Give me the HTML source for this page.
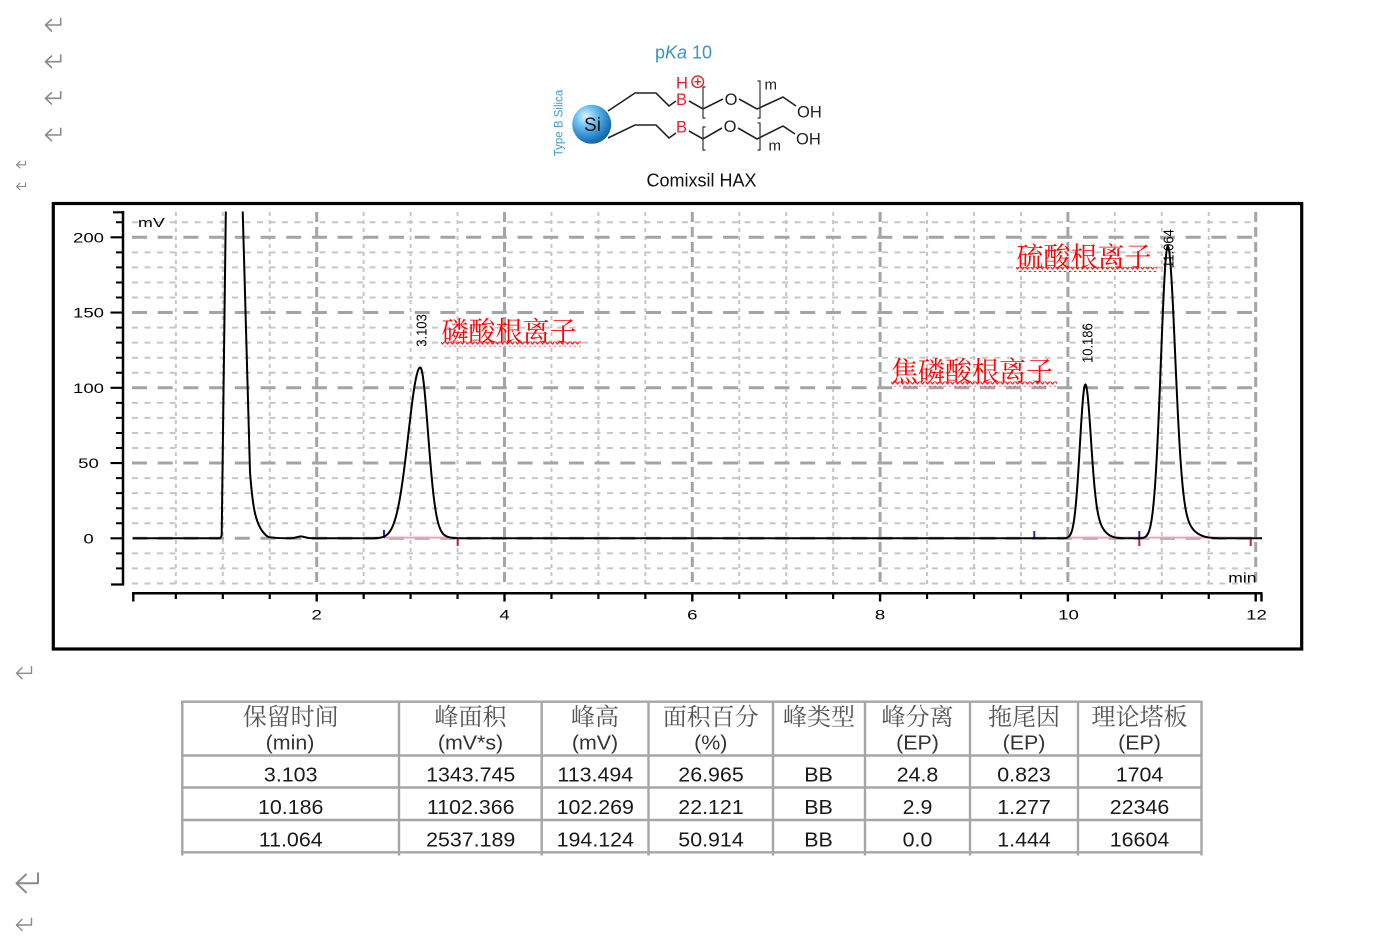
<!DOCTYPE html>
<html><head><meta charset="utf-8"><style>
html,body{margin:0;padding:0;background:#fff;}
body{width:1387px;height:937px;overflow:hidden;}
svg{display:block;}
</style></head><body>
<svg width="1387" height="937" viewBox="0 0 1387 937" xmlns="http://www.w3.org/2000/svg" font-family="'Liberation Sans', Arial, sans-serif">
<defs>
<radialGradient id="sph" cx="0.35" cy="0.3" r="0.75">
<stop offset="0" stop-color="#e2f4ff"/><stop offset="0.35" stop-color="#6cc0f0"/><stop offset="0.8" stop-color="#1f7cc4"/><stop offset="1" stop-color="#145f9c"/>
</radialGradient>
<pattern id="wave" x="0" y="0" width="5" height="5" patternUnits="userSpaceOnUse">
<path d="M0 1 L2.5 4 L5 1" stroke="#ff1010" stroke-width="1.1" fill="none"/>
</pattern>
<clipPath id="plotclip"><rect x="120" y="211.5" width="1180" height="400"/></clipPath>
</defs>

<!-- return marks -->
<g stroke="#8a8a8a" stroke-width="1.6" fill="none" stroke-linecap="round" stroke-linejoin="round">
<path d="M60.7 18.5V25H45.5M51.5 19.5L45.5 25L51.5 31"/>
<path d="M60.7 55V61.7H45.5M51.5 56L45.5 61.7L51.5 67.5"/>
<path d="M60.7 91.7V98.3H45.5M51.5 92.7L45.5 98.3L51.5 104"/>
<path d="M60.7 128.3V135H45.5M51.5 129.3L45.5 135L51.5 140.7"/>
<path d="M25.5 161V164.8H16.5M20 161.5L16.5 164.8L20 168" stroke-width="1.1"/>
<path d="M25.5 182.7V186.5H16.5M20 183.2L16.5 186.5L20 189.7" stroke-width="1.1"/>
<path d="M31.5 666.7V673.3H16.5M22 667.8L16.5 673.3L22 678.8" stroke-width="1.4"/>
<path d="M38 873.3V883.3H16.5M26 874.5L16.5 883.3L26 892.3" stroke-width="2"/>
<path d="M31.5 918.3V925H16.5M22 919.3L16.5 925L22 930.5" stroke-width="1.4"/>
</g>

<!-- molecule -->
<g>
<text x="655" y="58.5" font-size="18" fill="#3a92c5">p<tspan font-style="italic">Ka</tspan> 10</text>
<text transform="translate(562.5 123) rotate(-90)" text-anchor="middle" font-size="11.5" fill="#3b9ad0">Type B Silica</text>
<circle cx="591.7" cy="124.3" r="19.5" fill="url(#sph)"/>
<text x="592.5" y="131" text-anchor="middle" font-size="19" fill="#111">Si</text>
<path d="M608 111 L635 93 L656 93 L669 106 L676 101 M689 101 L703 109 L723 99 M739 99 L757 109 L783 97 L796 106 M608 138 L635 125 L656 125 L669 138 L676 133 M689 131 L703 139 L722 128 M738 128 L757 139 L783 126 L795 134" stroke="#222" stroke-width="1.6" fill="none"/>
<path d="M705.5 87 H703 V118 H705.5 M757.5 81 H760 V118 H757.5 M705.5 127 H703 V150 H705.5 M757.5 123 H760 V150 H757.5" stroke="#333" stroke-width="1.2" fill="none"/>
<text x="676" y="88.3" font-size="16.5" fill="#e0242c">H</text>
<text x="676" y="105" font-size="16.5" fill="#e0242c">B</text>
<text x="676" y="132.7" font-size="16.5" fill="#e0242c">B</text>
<circle cx="697.7" cy="81.7" r="5.8" stroke="#e0242c" stroke-width="1.4" fill="none"/>
<path d="M694.4 81.7H701M697.7 78.4V85" stroke="#e0242c" stroke-width="1.4"/>
<text x="731" y="105" text-anchor="middle" font-size="16.5" fill="#222">O</text>
<text x="730" y="132" text-anchor="middle" font-size="16.5" fill="#222">O</text>
<text x="797" y="117.5" font-size="16.5" fill="#222">OH</text>
<text x="796" y="144.5" font-size="16.5" fill="#222">OH</text>
<text x="764.5" y="89.5" font-size="15" fill="#222">m</text>
<text x="768.5" y="150.5" font-size="15" fill="#222">m</text>
<text x="646.5" y="186.5" font-size="18" fill="#111">Comixsil HAX</text>
</g>

<!-- chart frame -->
<rect x="53.3" y="203.5" width="1248.4" height="445.5" fill="#fff" stroke="#000" stroke-width="3.2"/>

<!-- grid -->
<path stroke="#c6c6c6" stroke-width="2" stroke-dasharray="6 6.5" fill="none" d="M132 583.45H1257M132 568.4H1257M132 553.35H1257M132 523.25H1257M132 508.2H1257M132 493.15H1257M132 478.1H1257M132 448H1257M132 432.95H1257M132 417.9H1257M132 402.85H1257M132 372.75H1257M132 357.7H1257M132 342.65H1257M132 327.6H1257M132 297.5H1257M132 282.45H1257M132 267.4H1257M132 252.35H1257M132 222.25H1257"/>
<path stroke="#c6c6c6" stroke-width="2" stroke-dasharray="4 4" fill="none" d="M175.85 212V585M222.8 212V585M269.75 212V585M363.65 212V585M410.6 212V585M457.55 212V585M551.45 212V585M598.4 212V585M645.35 212V585M739.25 212V585M786.2 212V585M833.15 212V585M927.05 212V585M974 212V585M1020.95 212V585M1114.85 212V585M1161.8 212V585M1208.75 212V585"/>
<path stroke="#a4a4a4" stroke-width="3" stroke-dasharray="15 10.7" fill="none" d="M132 538.3H1257M132 463.05H1257M132 387.8H1257M132 312.55H1257M132 237.3H1257"/>
<path stroke="#a4a4a4" stroke-width="3" stroke-dasharray="10 5" fill="none" d="M316.7 212V585M504.5 212V585M692.3 212V585M880.1 212V585M1067.9 212V585M1255.7 212V585"/>

<!-- axes -->
<g stroke="#000" fill="none">
<path stroke-width="2.5" d="M123 211V585.5M132 593.3H1262.5"/>
<path stroke-width="2.2" d="M110.5 538.3H123M110.5 463.05H123M110.5 387.8H123M110.5 312.55H123M110.5 237.3H123M111 584.5H123M113 212.3H123"/>
<path stroke-width="2" d="M116 568.4H123M116 553.35H123M116 523.25H123M116 508.2H123M116 493.15H123M116 478.1H123M116 448H123M116 432.95H123M116 417.9H123M116 402.85H123M116 372.75H123M116 357.7H123M116 342.65H123M116 327.6H123M116 297.5H123M116 282.45H123M116 267.4H123M116 252.35H123M116 222.25H123"/>
<path stroke-width="2.2" d="M175.85 593.3V599M222.8 593.3V599M269.75 593.3V599M363.65 593.3V599M410.6 593.3V599M457.55 593.3V599M551.45 593.3V599M598.4 593.3V599M645.35 593.3V599M739.25 593.3V599M786.2 593.3V599M833.15 593.3V599M927.05 593.3V599M974 593.3V599M1020.95 593.3V599M1114.85 593.3V599M1161.8 593.3V599M1208.75 593.3V599"/>
<path stroke-width="2.4" d="M133.3 593.3V601.5M316.7 593.3V601.5M504.5 593.3V601.5M692.3 593.3V601.5M880.1 593.3V601.5M1067.9 593.3V601.5M1255.7 593.3V601.5M1261.5 593.3V601.5"/>
</g>

<!-- axis labels -->
<g font-size="14" fill="#000" text-anchor="middle">
<text transform="translate(88.5 242.5) scale(1.33 1)">200</text>
<text transform="translate(88.5 317.7) scale(1.33 1)">150</text>
<text transform="translate(88.5 392.9) scale(1.33 1)">100</text>
<text transform="translate(88.5 468.1) scale(1.33 1)">50</text>
<text transform="translate(88.5 543.4) scale(1.33 1)">0</text>
<text transform="translate(316.7 619.4) scale(1.33 1)">2</text>
<text transform="translate(504.5 619.4) scale(1.33 1)">4</text>
<text transform="translate(692.3 619.4) scale(1.33 1)">6</text>
<text transform="translate(880.1 619.4) scale(1.33 1)">8</text>
<text transform="translate(1068.5 619.4) scale(1.33 1)">10</text>
<text transform="translate(1256.5 619.4) scale(1.33 1)">12</text>
</g>
<text transform="translate(138 227) scale(1.37 1)" font-size="13" fill="#000">mV</text>
<text transform="translate(1228.3 582.5) scale(1.25 1)" font-size="14" fill="#000">min</text>

<!-- integration baselines & markers -->
<path stroke="#e8a6b6" stroke-width="2" fill="none" d="M384 537.6H458M1068 537.6H1251"/>
<path stroke="#2a2aa0" stroke-width="2" fill="none" d="M384 530V538M1034.3 531V538M1139.3 531V538"/>
<path stroke="#c0203c" stroke-width="2" fill="none" d="M457.7 538.5V546M1139.3 538.5V546M1250.7 538.5V546"/>

<!-- trace -->
<g clip-path="url(#plotclip)">
<path id="trace" stroke="#000" stroke-width="2" fill="none" stroke-linejoin="round" d="M133 538.3 L219 538.3 C220.5 538.3 221.3 537.5 221.7 535 L226.6 150 L241 150 L242.7 211 L250 472 C252.5 505 255 528 268 536.8 C274 538.2 280 538.3 290 538.3 L1262 538.3"/>
</g>

<!-- peak labels -->
<g font-size="13" fill="#000">
<text transform="translate(426.5 346.7) rotate(-90) scale(1 1.15)">3.103</text>
<text transform="translate(1092.5 363) rotate(-90) scale(1 1.15)">10.186</text>
<text transform="translate(1173.5 268) rotate(-90) scale(1 1.15)">11.064</text>
</g>

<!-- red annotations -->
<g font-family="'Liberation Serif', 'Noto Serif CJK SC', 'Noto Sans CJK SC', serif" font-size="27" fill="#ff0000">
<text x="441.5" y="341">磷酸根离子</text>
<text x="891" y="381">焦磷酸根离子</text>
<text x="1016.5" y="266.5">硫酸根离子</text>
</g>
<rect x="441" y="341.5" width="140" height="5" fill="url(#wave)"/>
<rect x="891" y="381.5" width="166" height="5" fill="url(#wave)"/>
<rect x="1016" y="267" width="141" height="5" fill="url(#wave)"/>

<!-- table -->
<g stroke="#a6a6a6" stroke-width="2.4" fill="none">
<path d="M181 701.7H1202.5M181 755.5H1202.5M181 787.5H1202.5M181 820H1202.5M181 852.3H1202.5"/>
<path d="M182.3 700.5V855.5M399 700.5V855.5M541.7 700.5V855.5M648.5 700.5V855.5M773 700.5V855.5M865 700.5V855.5M970 700.5V855.5M1078 700.5V855.5M1201.5 700.5V855.5"/>
</g>
<g font-family="'Liberation Serif', 'Noto Serif CJK SC', serif" font-size="24" fill="#555" text-anchor="middle">
<text x="290.7" y="725">保留时间</text>
<text x="470.5" y="725">峰面积</text>
<text x="595" y="725">峰高</text>
<text x="710.7" y="725">面积百分</text>
<text x="819" y="725">峰类型</text>
<text x="917.5" y="725">峰分离</text>
<text x="1024" y="725">拖尾因</text>
<text x="1139.5" y="725">理论塔板</text>
</g>
<g font-size="20" fill="#333" text-anchor="middle">
<text transform="translate(290 749.5) scale(1.07 1)">(min)</text>
<text transform="translate(470.5 749.5) scale(1.07 1)">(mV*s)</text>
<text transform="translate(595 749.5) scale(1.07 1)">(mV)</text>
<text transform="translate(710.7 749.5) scale(1.07 1)">(%)</text>
<text transform="translate(917.5 749.5) scale(1.07 1)">(EP)</text>
<text transform="translate(1024 749.5) scale(1.07 1)">(EP)</text>
<text transform="translate(1139.5 749.5) scale(1.07 1)">(EP)</text>
</g>
<g font-size="20" fill="#1a1a1a" text-anchor="middle">
<text transform="translate(290.7 781.7) scale(1.07 1)">3.103</text>
<text transform="translate(470.7 781.7) scale(1.07 1)">1343.745</text>
<text transform="translate(595.3 781.7) scale(1.07 1)">113.494</text>
<text transform="translate(711 781.7) scale(1.07 1)">26.965</text>
<text transform="translate(818.5 781.7) scale(1.07 1)">BB</text>
<text transform="translate(917.5 781.7) scale(1.07 1)">24.8</text>
<text transform="translate(1024 781.7) scale(1.07 1)">0.823</text>
<text transform="translate(1139.5 781.7) scale(1.07 1)">1704</text>

<text transform="translate(290.7 814.2) scale(1.07 1)">10.186</text>
<text transform="translate(470.7 814.2) scale(1.07 1)">1102.366</text>
<text transform="translate(595.3 814.2) scale(1.07 1)">102.269</text>
<text transform="translate(711 814.2) scale(1.07 1)">22.121</text>
<text transform="translate(818.5 814.2) scale(1.07 1)">BB</text>
<text transform="translate(917.5 814.2) scale(1.07 1)">2.9</text>
<text transform="translate(1024 814.2) scale(1.07 1)">1.277</text>
<text transform="translate(1139.5 814.2) scale(1.07 1)">22346</text>

<text transform="translate(290.7 846.6) scale(1.07 1)">11.064</text>
<text transform="translate(470.7 846.6) scale(1.07 1)">2537.189</text>
<text transform="translate(595.3 846.6) scale(1.07 1)">194.124</text>
<text transform="translate(711 846.6) scale(1.07 1)">50.914</text>
<text transform="translate(818.5 846.6) scale(1.07 1)">BB</text>
<text transform="translate(917.5 846.6) scale(1.07 1)">0.0</text>
<text transform="translate(1024 846.6) scale(1.07 1)">1.444</text>
<text transform="translate(1139.5 846.6) scale(1.07 1)">16604</text>
</g>
</svg>
<script>
(function(){
  var y0=538.3;
  var peaks=[
    {c:420.3,h:170.8,sl:12,sr:7.6,w:0.1,st:12},
    {c:1085.4,h:153.9,sl:5.5,sr:5.3,w:0.22,st:11},
    {c:1167.8,h:292.2,sl:6.9,sr:7.2,w:0.12,st:15}
  ];
  function f(x){
    var v=0;
    for(var i=0;i<peaks.length;i++){
      var p=peaks[i],d=x-p.c;
      if(d<0){v+=p.h*Math.exp(-d*d/(2*p.sl*p.sl));}
      else{v+=p.h*((1-p.w)*Math.exp(-d*d/(2*p.sr*p.sr))+p.w*Math.exp(-d*d/(2*p.st*p.st)));}
    }
    return v;
  }
  var d='M133 538.3 L219 538.3 C220.5 538.3 221.3 537.5 221.7 535 L226.6 150 L241 150 L242.7 211 L250 472 C252.5 505 255 528 268 536.8 C274 538.2 280 538.3 290 538.3 C295 538.3 298 536.4 301 536.4 C304 536.4 306 538.3 312 538.3';
  for(var x=312.5;x<=1262;x+=0.5){d+=' L'+x+' '+(y0-f(x)).toFixed(2);}
  document.getElementById('trace').setAttribute('d',d);
})();
</script>
</body></html>
